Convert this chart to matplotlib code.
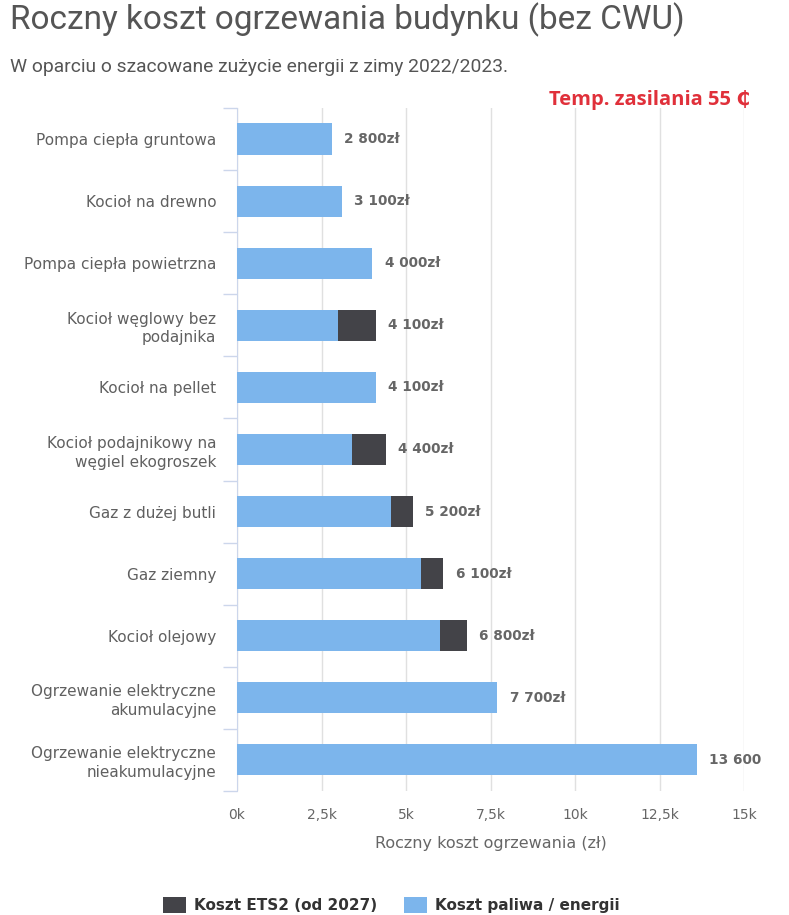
import numpy as np
import matplotlib
matplotlib.use('Agg')
import matplotlib.pyplot as plt
from matplotlib.patches import Patch

plt.rcParams['font.family'] = ['DejaVu Sans']

categories = [
    'Pompa ciepła gruntowa',
    'Kocioł na drewno',
    'Pompa ciepła powietrzna',
    'Kocioł węglowy bez\npodajnika',
    'Kocioł na pellet',
    'Kocioł podajnikowy na\nwęgiel ekogroszek',
    'Gaz z dużej butli',
    'Gaz ziemny',
    'Kocioł olejowy',
    'Ogrzewanie elektryczne\nakumulacyjne',
    'Ogrzewanie elektryczne\nnieakumulacyjne',
]
fuel_cost = [2800, 3100, 4000, 3000, 4100, 3400, 4550, 5450, 6000, 7700, 13600]
ets2_cost = [0, 0, 0, 1100, 0, 1000, 650, 650, 800, 0, 0]
value_labels = ['2 800zł', '3 100zł', '4 000zł', '4 100zł', '4 100zł', '4 400zł',
                '5 200zł', '6 100zł', '6 800zł', '7 700zł', '13 600']
x_ticks = [0, 2500, 5000, 7500, 10000, 12500, 15000]
x_tick_labels = ['0k', '2,5k', '5k', '7,5k', '10k', '12,5k', '15k']

BLUE = '#7cb5ec'
DARK = '#434348'
GRID = '#e0e0e0'
AXIS = '#ccd6eb'

fig = plt.figure(figsize=(7.89, 9.15), dpi=100)
ax = fig.add_axes([0.3004, 0.1355, 0.6426, 0.7465])

y = np.arange(len(categories))
ax.barh(y, fuel_cost, height=0.5, color=BLUE, zorder=3)
ax.barh(y, ets2_cost, left=fuel_cost, height=0.5, color=DARK, zorder=3)

totals = np.array(fuel_cost) + np.array(ets2_cost)
for yi, t, lab in zip(y, totals, value_labels):
    ax.annotate(lab, xy=(t, yi), xytext=(9, 0), textcoords='offset points',
                ha='left', va='center', fontsize=9.8, fontweight='bold', color='#666666')

ax.set_xlim(0, 15000)
ax.set_ylim(len(categories) - 0.5, -0.5)
ax.set_xticks(x_ticks)
ax.set_xticklabels(x_tick_labels, color='#666666', fontsize=10)
ax.set_yticks(y)
ax.set_yticklabels(categories, color='#606060', fontsize=11, linespacing=1.3)
ax.set_yticks(np.arange(-0.5, len(categories)), minor=True)
ax.tick_params(axis='y', which='major', length=0, pad=15)
ax.tick_params(axis='y', which='minor', length=10, color=AXIS, width=1)
ax.tick_params(axis='x', length=0, pad=12)
ax.xaxis.grid(True, color=GRID, linewidth=1, zorder=0)
for s in ['top', 'right', 'bottom']:
    ax.spines[s].set_visible(False)
ax.spines['left'].set_color(AXIS)

ax.set_xlabel('Roczny koszt ogrzewania (zł)', fontsize=11.5, color='#666666', labelpad=10)

fig.text(0.013, 0.978, 'Roczny koszt ogrzewania budynku (bez CWU)', family='Roboto',
         fontsize=24, color='#555555', ha='left', va='center')
fig.text(0.013, 0.927, 'W oparciu o szacowane zużycie energii z zimy 2022/2023.', family='Roboto',
         fontsize=13.9, color='#555555', ha='left', va='center')
fig.text(0.951, 0.891, 'Temp. zasilania 55 ₵', family=['Open Sans', 'DejaVu Sans'],
         fontweight='bold', fontsize=14.5, color='#e0303a', ha='right', va='center')

handles = [Patch(facecolor=DARK, label='Koszt ETS2 (od 2027)'),
           Patch(facecolor=BLUE, label='Koszt paliwa / energii')]
fig.legend(handles=handles, loc='center', bbox_to_anchor=(0.496, 0.011), ncol=2,
           frameon=False, handlelength=1.5, handleheight=1.2,
           columnspacing=1.8, handletextpad=0.5, labelcolor='#333333',
           prop={'weight': 'bold', 'size': 11})

fig.savefig('out.png', dpi=100)
